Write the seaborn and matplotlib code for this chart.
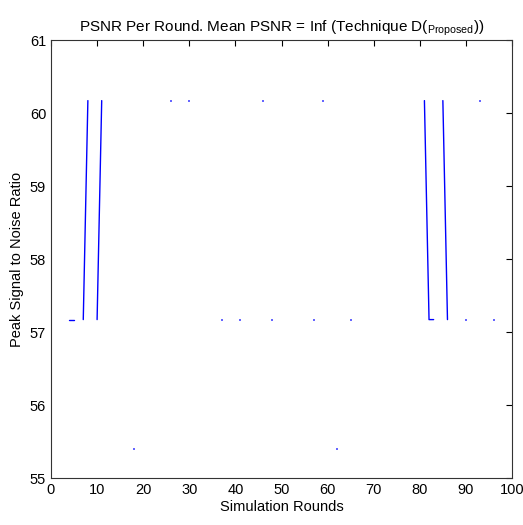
import numpy as np
import pandas as pd
import matplotlib
matplotlib.use("Agg")
import matplotlib.pyplot as plt
import seaborn as sns

# PSNR per simulation round, inf where the round gives an infinite PSNR
rounds = list(range(1, 101))
finite_psnr = {
    4: 57.17, 5: 57.17, 7: 57.17, 8: 60.17, 10: 57.17, 11: 60.17,
    18: 55.40, 26: 60.17, 30: 60.17, 37: 57.17, 41: 57.17, 46: 60.17,
    48: 57.17, 57: 57.17, 59: 60.17, 62: 55.40, 65: 57.17, 81: 60.17,
    82: 57.17, 83: 57.17, 85: 60.17, 86: 57.17, 90: 57.17, 93: 60.17,
    96: 57.17,
}
psnr = [finite_psnr.get(r, np.inf) for r in rounds]

xticks = list(range(0, 101, 10))
yticks = list(range(55, 62))

df = pd.DataFrame({'round': rounds, 'psnr': psnr})
df['ok'] = np.isfinite(df['psnr'])
# label runs of consecutive finite rounds, like matlab breaks the line at Inf
df['seg'] = (df['ok'] != df['ok'].shift()).cumsum()
fin = df[df['ok']].copy()
seg_size = fin.groupby('seg')['round'].transform('size')
runs = fin[seg_size > 1]
lone = fin[seg_size == 1]

sns.set_style('white')
plt.rcParams['font.family'] = ['Liberation Sans Narrow', 'Liberation Sans', 'DejaVu Sans']
plt.rcParams['mathtext.fontset'] = 'custom'
plt.rcParams['mathtext.rm'] = 'Liberation Sans'

fig = plt.figure(figsize=(5.23, 5.25), dpi=100)
ax = fig.add_axes([0.0975, 0.0895, 0.8815, 0.8343])

sns.lineplot(data=runs, x='round', y='psnr', units='seg', estimator=None,
             color='blue', linewidth=1.0, ax=ax)
sns.scatterplot(data=lone, x='round', y='psnr', marker='s', s=2, color='blue',
                linewidth=0, alpha=0.6, ax=ax)

ax.set_xlim(0, 100)
ax.set_ylim(55, 61)
ax.set_xticks(xticks)
ax.set_yticks(yticks)
ax.tick_params(direction='in', length=4, width=0.8, top=True, right=True,
               labelsize=10.5, colors='black')
for s in ax.spines.values():
    s.set_color('#333333')
    s.set_linewidth(0.8)

ax.set_xlabel('Simulation Rounds', fontsize=10.5, labelpad=2, color='black')
ax.set_ylabel('Peak Signal to Noise Ratio', fontsize=10.5, labelpad=4, color='black')
ax.set_title(r'PSNR Per Round. Mean PSNR = Inf (Technique D($_{\mathrm{Proposed}}$))',
             fontsize=11, pad=6, color='black')

fig.savefig('out.png', dpi=100)
